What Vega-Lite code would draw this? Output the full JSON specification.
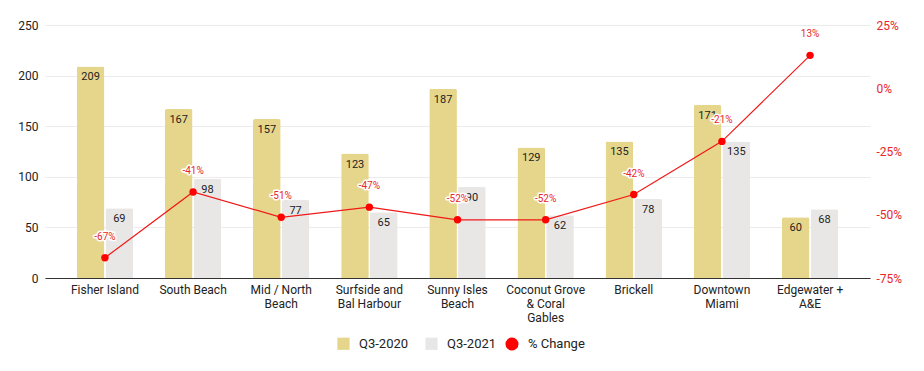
{
  "$schema": "https://vega.github.io/schema/vega-lite/v6.json",
  "autosize": "none",
  "width": 825,
  "height": 253,
  "padding": {"left": 45, "top": 25, "right": 54, "bottom": 93},
  "background": "white",
  "config": {
    "view": {"stroke": null},
    "font": "Roboto",
    "axis": {"labelFont": "Roboto", "titleFont": "Roboto"},
    "legend": {"labelFont": "Roboto"}
  },
  "datasets": {
    "bars": [
      {"region": "Fisher Island", "series": "Q3-2020", "value": 209},
      {"region": "Fisher Island", "series": "Q3-2021", "value": 69},
      {"region": "South Beach", "series": "Q3-2020", "value": 167},
      {"region": "South Beach", "series": "Q3-2021", "value": 98},
      {"region": "Mid / North|Beach", "series": "Q3-2020", "value": 157},
      {"region": "Mid / North|Beach", "series": "Q3-2021", "value": 77},
      {"region": "Surfside and|Bal Harbour", "series": "Q3-2020", "value": 123},
      {"region": "Surfside and|Bal Harbour", "series": "Q3-2021", "value": 65},
      {"region": "Sunny Isles|Beach", "series": "Q3-2020", "value": 187},
      {"region": "Sunny Isles|Beach", "series": "Q3-2021", "value": 90},
      {"region": "Coconut Grove|& Coral|Gables", "series": "Q3-2020", "value": 129},
      {"region": "Coconut Grove|& Coral|Gables", "series": "Q3-2021", "value": 62},
      {"region": "Brickell", "series": "Q3-2020", "value": 135},
      {"region": "Brickell", "series": "Q3-2021", "value": 78},
      {"region": "Downtown|Miami", "series": "Q3-2020", "value": 171},
      {"region": "Downtown|Miami", "series": "Q3-2021", "value": 135},
      {"region": "Edgewater +|A&E", "series": "Q3-2020", "value": 60},
      {"region": "Edgewater +|A&E", "series": "Q3-2021", "value": 68}
    ],
    "pct": [
      {"region": "Fisher Island", "series": "% Change", "pct": -67, "label": "-67%"},
      {"region": "South Beach", "series": "% Change", "pct": -41, "label": "-41%"},
      {"region": "Mid / North|Beach", "series": "% Change", "pct": -51, "label": "-51%"},
      {"region": "Surfside and|Bal Harbour", "series": "% Change", "pct": -47, "label": "-47%"},
      {"region": "Sunny Isles|Beach", "series": "% Change", "pct": -52, "label": "-52%"},
      {"region": "Coconut Grove|& Coral|Gables", "series": "% Change", "pct": -52, "label": "-52%"},
      {"region": "Brickell", "series": "% Change", "pct": -42, "label": "-42%"},
      {"region": "Downtown|Miami", "series": "% Change", "pct": -21, "label": "-21%"},
      {"region": "Edgewater +|A&E", "series": "% Change", "pct": 13, "label": "13%"}
    ]
  },
  "encoding": {
    "x": {
      "field": "region",
      "type": "nominal",
      "sort": null,
      "scale": {"paddingInner": 0.36, "paddingOuter": 0.36},
      "axis": {
        "title": null,
        "labelAngle": 0,
        "labelExpr": "split(datum.label, '|')",
        "labelFontSize": 12,
        "labelColor": "#222222",
        "labelPadding": 6,
        "labelLineHeight": 14,
        "ticks": false,
        "domainColor": "#333333",
        "domainWidth": 1.2,
        "grid": false,
        "labelLimit": 200
      }
    }
  },
  "layer": [
    {
      "data": {"name": "bars"},
      "encoding": {
        "xOffset": {"field": "series", "type": "nominal", "scale": {"paddingInner": 0.04}},
        "y": {
          "field": "value",
          "type": "quantitative",
          "scale": {"domain": [0, 250]},
          "axis": {
            "title": null,
            "values": [0, 50, 100, 150, 200, 250],
            "labelFontSize": 12,
            "labelColor": "#222222",
            "labelPadding": 7,
            "ticks": false,
            "domain": false,
            "gridColor": "#EBEBEB",
            "grid": true
          }
        }
      },
      "layer": [
        {
          "mark": {"type": "bar", "cornerRadiusTopLeft": 2, "cornerRadiusTopRight": 2},
          "encoding": {
            "color": {
              "field": "series",
              "type": "nominal",
              "scale": {"domain": ["Q3-2020", "Q3-2021"], "range": ["#E6D68B", "#E9E7E6"]},
              "legend": {
                "title": null,
                "orient": "none",
                "direction": "horizontal",
                "legendX": 292,
                "legendY": 312,
                "symbolType": "square",
                "symbolSize": 150,
                "symbolStrokeWidth": 0,
                "labelFontSize": 13,
                "labelColor": "#222222",
                "labelOffset": 9,
                "columnPadding": 16
              }
            }
          }
        },
        {
          "mark": {"type": "text", "baseline": "top", "dy": 5, "fontSize": 11, "color": "#222222"},
          "encoding": {"text": {"field": "value", "type": "quantitative"}}
        }
      ]
    },
    {
      "data": {"name": "pct"},
      "encoding": {
        "y": {
          "field": "pct",
          "type": "quantitative",
          "scale": {"domain": [-75, 25]},
          "axis": {
            "title": null,
            "orient": "right",
            "values": [-75, -50, -25, 0, 25],
            "labelExpr": "datum.value + '%'",
            "labelFontSize": 12,
            "labelColor": "#E8262A",
            "labelPadding": 6,
            "ticks": false,
            "domain": false,
            "grid": false
          }
        }
      },
      "layer": [
        {
          "mark": {"type": "line", "color": "#F01818", "strokeWidth": 1.2},
          "encoding": {}
        },
        {
          "mark": {"type": "point", "filled": true, "size": 55, "opacity": 1, "shape": "circle"},
          "encoding": {
            "color": {
              "field": "series",
              "type": "nominal",
              "scale": {"domain": ["% Change"], "range": ["#FF0000"]},
              "legend": {
                "title": null,
                "orient": "none",
                "direction": "horizontal",
                "legendX": 460,
                "legendY": 312,
                "symbolType": "circle",
                "symbolSize": 170,
                "symbolStrokeWidth": 0,
                "labelFontSize": 13,
                "labelColor": "#222222",
                "labelOffset": 9
              }
            }
          }
        },
        {
          "mark": {"type": "text", "dy": -21, "fontSize": 10, "stroke": "white", "strokeWidth": 3, "strokeJoin": "round"},
          "encoding": {"text": {"field": "label", "type": "nominal"}}
        },
        {
          "mark": {"type": "text", "dy": -21, "fontSize": 10, "color": "#E8262A"},
          "encoding": {"text": {"field": "label", "type": "nominal"}}
        }
      ]
    }
  ],
  "resolve": {"scale": {"y": "independent", "color": "independent"}}
}
